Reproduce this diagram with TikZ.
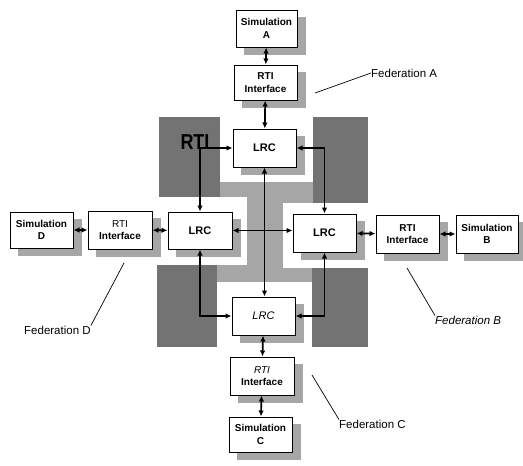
\documentclass[tikz,border=0pt]{standalone}
\usepackage{fontspec}
\setmainfont{Liberation Sans}
\usetikzlibrary{arrows.meta}
\pgfdeclarelayer{back}
\pgfdeclarelayer{shadowlayer}
\pgfsetlayers{back,shadowlayer,main}
\tikzset{
  blk/.style={draw=black, line width=1pt, fill=white, align=center, inner sep=1pt,
    font=\bfseries\fontsize{10}{12.5}\selectfont},
  lrc/.style={blk, font=\bfseries\fontsize{11}{13}\selectfont},
  boxshadow/.style={fill=black!35},
  link/.style={line width=1.7pt, {Latex[length=6pt,width=5.5pt]}-{Latex[length=6pt,width=5.5pt]}},
  lbl/.style={font=\fontsize{11.5}{13}\selectfont, inner sep=0pt},
  pointer/.style={line width=0.7pt},
  darkg/.style={fill=black!55},
  medg/.style={fill=black!35}
}
\begin{document}
\begin{tikzpicture}[x=1pt,y=-1pt]
\useasboundingbox (0,0) rectangle (523,466);
% RTI backdrop
\begin{pgfonlayer}{back}
\fill[medg] (159,117) rectangle (368,347);
\fill[darkg] (159,117) rectangle (220,197);
\fill[darkg] (313,117) rectangle (368,203);
\fill[darkg] (157,265) rectangle (217,347);
\fill[darkg] (312,268) rectangle (368,347);
\fill[white] (220,117) rectangle (313,182);
\fill[white] (159,197) rectangle (247,265);
\fill[white] (283,203) rectangle (368,268);
\fill[white] (217,282) rectangle (312,347);
\end{pgfonlayer}
\node[font=\bfseries\fontsize{18}{18}\selectfont, yscale=1.2, inner sep=0pt] (rti) at (195,142) {RTI};
% boxes
\node[blk, minimum width=61pt, minimum height=37pt] (simA) at (266.5,28.5) {Simulation\\A};
\node[blk, minimum width=63pt, minimum height=35pt] (rtiA) at (265.5,82.5) {RTI\\Interface};
\node[lrc, minimum width=63pt, minimum height=38pt] (ltop) at (264.5,148) {LRC};
\node[lrc, minimum width=64pt, minimum height=37pt] (lleft) at (200,230.5) {LRC};
\node[lrc, minimum width=63pt, minimum height=38pt] (lright) at (324.5,233) {LRC};
\node[lrc, minimum width=63pt, minimum height=38pt] (lbot) at (263.5,316) {\mdseries\itshape LRC};
\node[blk, minimum width=64pt, minimum height=38pt] (rtiC) at (262,376) {\mdseries\itshape RTI\\\bfseries\upshape Interface};
\node[blk, minimum width=63pt, minimum height=35pt] (simC) at (260.5,434.5) {Simulation\\C};
\node[blk, minimum width=63pt, minimum height=36pt] (simD) at (41.5,230) {Simulation\\D};
\node[blk, minimum width=64pt, minimum height=38pt] (rtiD) at (120,230) {\mdseries RTI\\\bfseries Interface};
\node[blk, minimum width=63pt, minimum height=38pt] (rtiB) at (407.5,234) {RTI\\Interface};
\node[blk, minimum width=62pt, minimum height=38pt] (simB) at (487,234) {Simulation\\B};
\begin{pgfonlayer}{shadowlayer}
\foreach \n in {simA,rtiA,ltop,lleft,lright,lbot,rtiC,simC,simD,rtiD,rtiB,simB}
  \fill[boxshadow] ([xshift=8pt,yshift=-7pt]\n.south west) rectangle ([xshift=8pt,yshift=-7pt]\n.north east);
\end{pgfonlayer}
% links
\draw[link] (simA) -- (rtiA);
\draw[link] (rtiA) -- (ltop);
\draw[link] (lbot) -- (rtiC);
\draw[link] (rtiC) -- (simC);
\draw[link] (simD) -- (rtiD);
\draw[link] (rtiD) -- (lleft);
\draw[link] (lright) -- (rtiB);
\draw[link] (rtiB) -- (simB);
\draw[link] (ltop.south) -- (ltop.south |- lbot.north);
\draw[link] (lleft.east) -- (lleft.east -| lright.west);
\draw[link] (ltop.west) -| (lleft.north);
\draw[link] (ltop.east) -| (lright.north);
\draw[link] (lleft.south) |- (lbot.west);
\draw[link] (lright.south) |- (lbot.east);
% federation labels
\node[lbl, anchor=west] (fA) at (371,73) {Federation A};
\node[lbl, anchor=west] (fD) at (24,330) {Federation D};
\node[lbl, anchor=west, font=\itshape\fontsize{11.5}{13}\selectfont] (fB) at (435,320) {Federation B};
\node[lbl, anchor=west] (fC) at (339,424) {Federation C};
\coordinate (pA) at (315,93);
\coordinate (pD) at (124,263);
\coordinate (pB) at (407,268);
\coordinate (pC) at (312,375);
\draw[pointer] (pA) -- (fA.west);
\draw[pointer] (pD) -- (fD.north east);
\draw[pointer] (pB) -- (fB.north west);
\draw[pointer] (pC) -- (fC.north west);
\end{tikzpicture}
\end{document}
